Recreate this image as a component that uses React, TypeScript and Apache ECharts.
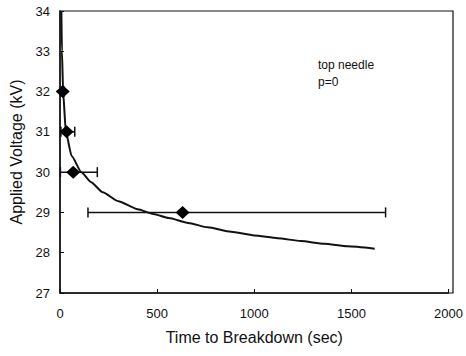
import React, { useEffect, useRef } from "react";
import * as echarts from "echarts";

// Measured points: [time (s), voltage (kV)]
const pointTimes = [14, 34, 68, 631];
const pointVolts = [32, 31, 30, 29];
const errLow = [8, 5, 2, 144];
const errHigh = [22, 76, 192, 1676];

// Fitted curve
const curveTimes = [7, 10, 16, 30, 60, 110, 160, 220, 300, 400, 480, 560, 660, 760, 880, 1000, 1120, 1240, 1360, 1480, 1620];
const curveVolts = [34, 33, 32, 31, 30.4, 30, 29.75, 29.5, 29.28, 29.08, 28.96, 28.86, 28.74, 28.63, 28.52, 28.43, 28.36, 28.29, 28.22, 28.16, 28.1];

const xTicks = [0, 500, 1000, 1500, 2000];
const yTicks = [27, 28, 29, 30, 31, 32, 33, 34];

export default function App() {
  const ref = useRef<HTMLDivElement>(null);
  useEffect(() => {
    const chart = echarts.init(ref.current!, null, { renderer: "svg" });
    const font = "Liberation Sans, Arial, sans-serif";
    chart.setOption({
      animation: false,
      backgroundColor: "#fff",
      grid: { left: 60, right: 13, top: 11, bottom: 63 },
      xAxis: {
        type: "value",
        min: xTicks[0],
        max: xTicks[xTicks.length - 1],
        interval: 500,
        name: "Time to Breakdown (sec)",
        nameLocation: "middle",
        nameGap: 36,
        nameTextStyle: { fontSize: 16, color: "#111", fontFamily: font },
        axisLine: { show: true, onZero: false, lineStyle: { color: "#111", width: 1.5 } },
        axisTick: { show: true, inside: true, length: 4, lineStyle: { color: "#111" } },
        axisLabel: { fontSize: 13, color: "#111", fontFamily: font, margin: 14, formatter: (v: number) => String(v) },
        splitLine: { show: false },
      },
      yAxis: {
        type: "value",
        min: yTicks[0],
        max: yTicks[yTicks.length - 1],
        interval: 1,
        name: "Applied Voltage (kV)",
        nameLocation: "middle",
        nameGap: 30,
        nameTextStyle: { fontSize: 16, color: "#111", fontFamily: font },
        axisLine: { show: true, onZero: false, lineStyle: { color: "#111", width: 1.5 } },
        axisTick: { show: true, inside: true, length: 4, lineStyle: { color: "#111" } },
        axisLabel: { fontSize: 13, color: "#111", fontFamily: font, margin: 10, formatter: (v: number) => String(v) },
        splitLine: { show: false },
      },
      graphic: [
        {
          type: "rect",
          shape: { x: 60, y: 11, width: 393, height: 282 },
          style: { fill: "none", stroke: "#111", lineWidth: 1.2 },
          silent: true,
        },
        {
          type: "text",
          left: 318,
          top: 56,
          style: { text: "top needle\np=0", fontSize: 12, lineHeight: 17, fill: "#111", fontFamily: font },
        },
      ],
      series: [
        {
          type: "line",
          data: curveTimes.map((t, i) => [t, curveVolts[i]]),
          smooth: 0.2,
          smoothMonotone: "x",
          showSymbol: false,
          symbol: "none",
          lineStyle: { color: "#111", width: 2 },
          z: 2,
        },
        {
          type: "custom",
          data: pointVolts.map((v, i) => [errLow[i], errHigh[i], v]),
          renderItem: (params: any, api: any) => {
            const lo = api.coord([api.value(0), api.value(2)]);
            const hi = api.coord([api.value(1), api.value(2)]);
            const c = 5;
            const st = { stroke: "#111", lineWidth: 1.5 };
            return {
              type: "group",
              children: [
                { type: "line", shape: { x1: lo[0], y1: lo[1], x2: hi[0], y2: hi[1] }, style: st },
                { type: "line", shape: { x1: lo[0], y1: lo[1] - c, x2: lo[0], y2: lo[1] + c }, style: st },
                { type: "line", shape: { x1: hi[0], y1: hi[1] - c, x2: hi[0], y2: hi[1] + c }, style: st },
              ],
            };
          },
          z: 3,
        },
        {
          type: "scatter",
          data: pointTimes.map((t, i) => [t, pointVolts[i]]),
          symbol: "diamond",
          symbolSize: [14, 13],
          itemStyle: { color: "#000", opacity: 1 },
          z: 4,
        },
      ],
    });
    return () => chart.dispose();
  }, []);
  return <div ref={ref} style={{ width: 466, height: 356, position: "absolute", left: 0, top: 0 }} />;
}
